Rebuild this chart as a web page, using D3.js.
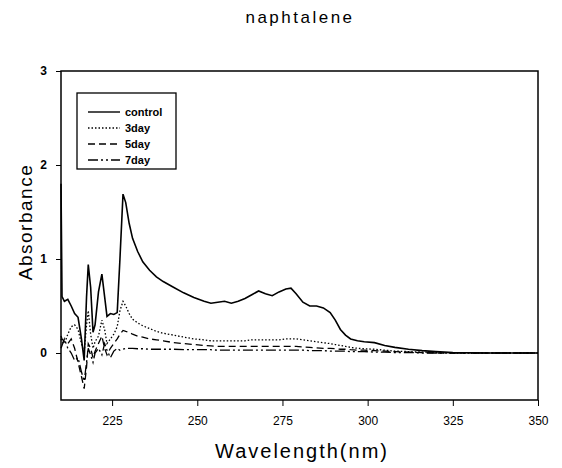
<!DOCTYPE html>
<html>
<head>
<meta charset="utf-8">
<script src="https://cdn.jsdelivr.net/npm/d3@7"></script>
<style>
  body { margin: 0; background: #fff; }
  svg { display: block; }
</style>
</head>
<body>
<svg id="chart" width="562" height="468"></svg>
<script>
// wavelength grid (nm), shared by all series
const wavelengths = [210, 210.3, 211, 212, 213, 214, 215, 216, 216.8, 217.5, 218, 218.7, 219.4, 220, 221, 222, 222.8, 223.5, 224.5, 225.5, 226.5, 227.3, 228.2, 229, 230, 231, 232.5, 234, 236, 238, 240, 243, 246, 249, 252, 254, 256, 258, 260, 262, 264, 266, 268, 270, 272, 274, 276, 277.5, 279, 281, 283, 285, 287, 289, 290.5, 292, 293.5, 295, 297, 299, 302, 305, 308, 312, 316, 320, 325, 330, 335, 340, 345, 350]

const control = [1.8, 0.6, 0.55, 0.57, 0.5, 0.42, 0.38, 0.15, -0.08, 0.6, 0.94, 0.7, 0.22, 0.3, 0.65, 0.84, 0.6, 0.39, 0.42, 0.41, 0.43, 1.0, 1.69, 1.6, 1.38, 1.22, 1.08, 0.97, 0.88, 0.81, 0.76, 0.7, 0.64, 0.59, 0.55, 0.53, 0.54, 0.55, 0.53, 0.55, 0.58, 0.62, 0.66, 0.63, 0.61, 0.65, 0.68, 0.69, 0.63, 0.54, 0.5, 0.5, 0.48, 0.43, 0.35, 0.25, 0.19, 0.15, 0.13, 0.12, 0.11, 0.08, 0.06, 0.04, 0.025, 0.015, 0.005, 0.002, 0, 0, 0, 0]
const day3 = [0.15, 0.12, 0.1, 0.2, 0.28, 0.3, 0.25, 0.1, 0.0, 0.3, 0.45, 0.2, 0.05, 0.12, 0.18, 0.35, 0.25, 0.1, 0.15, 0.2, 0.28, 0.45, 0.55, 0.5, 0.42, 0.36, 0.32, 0.29, 0.26, 0.23, 0.21, 0.19, 0.17, 0.15, 0.14, 0.13, 0.13, 0.13, 0.13, 0.13, 0.13, 0.14, 0.14, 0.14, 0.14, 0.14, 0.15, 0.15, 0.15, 0.14, 0.13, 0.12, 0.11, 0.1, 0.09, 0.08, 0.07, 0.06, 0.05, 0.045, 0.04, 0.03, 0.02, 0.015, 0.01, 0.005, 0, 0, 0, 0, 0, 0]
const day5 = [0.18, 0.15, 0.12, 0.1, 0.15, 0.05, -0.1, -0.25, -0.38, -0.15, 0.1, 0.05, -0.05, 0.02, 0.1, 0.18, 0.05, -0.02, 0.05, 0.1, 0.15, 0.2, 0.24, 0.23, 0.22, 0.2, 0.18, 0.17, 0.15, 0.14, 0.13, 0.11, 0.1, 0.09, 0.08, 0.075, 0.07, 0.07, 0.07, 0.07, 0.07, 0.07, 0.07, 0.07, 0.07, 0.07, 0.07, 0.07, 0.07, 0.065, 0.06, 0.055, 0.05, 0.05, 0.045, 0.04, 0.04, 0.035, 0.03, 0.03, 0.025, 0.02, 0.015, 0.01, 0.005, 0, 0, 0, 0, 0, 0, 0]
const day7 = [0.05, 0.08, 0.15, 0.05, 0.0, -0.08, -0.05, -0.2, -0.3, -0.1, 0.05, -0.02, -0.1, 0.0, 0.05, -0.02, 0.1, 0.03, -0.05, 0.02, 0.05, 0.03, 0.04, 0.05, 0.05, 0.05, 0.045, 0.045, 0.04, 0.04, 0.04, 0.04, 0.035, 0.035, 0.035, 0.035, 0.03, 0.03, 0.03, 0.03, 0.03, 0.03, 0.03, 0.03, 0.03, 0.03, 0.03, 0.03, 0.03, 0.03, 0.025, 0.025, 0.025, 0.02, 0.02, 0.02, 0.02, 0.015, 0.015, 0.015, 0.01, 0.01, 0.005, 0.005, 0, 0, 0, 0, 0, 0, 0, 0]

const seriesNames = ['control', '3day', '5day', '7day']
const seriesValues = [control, day3, day5, day7]
const dashes = [null, '1.5,2', '7,4', '10,3,2,3,2,3']
const xTicks = [225, 250, 275, 300, 325, 350]
const yTicks = [0, 1, 2, 3]

const svg = d3.select('#chart')
const plotLeft = 61, plotRight = 538, plotTop = 71, plotBottom = 400

const x = d3.scaleLinear().domain([210, 350]).range([plotLeft, plotRight])
const y = d3.scaleLinear().domain([-0.5, 3]).range([plotBottom, plotTop])

// title
svg.append('text')
  .attr('x', 300).attr('y', 23)
  .attr('text-anchor', 'middle')
  .style('font-family', 'Liberation Sans, Arial, sans-serif')
  .style('font-size', '17px')
  .style('letter-spacing', '2.5px')
  .text('naphtalene')

// frame
svg.append('rect')
  .attr('x', plotLeft).attr('y', plotTop)
  .attr('width', plotRight - plotLeft).attr('height', plotBottom - plotTop)
  .attr('fill', 'none').attr('stroke', '#000').attr('stroke-width', 1.5)

const xAxis = svg.append('g')
  .attr('transform', `translate(0,${plotBottom})`)
  .call(d3.axisBottom(x).tickValues(xTicks).tickFormat(d3.format('d')).tickSize(6).tickPadding(10))
xAxis.select('.domain').remove()
xAxis.selectAll('text')
  .style('font-family', 'Liberation Sans Narrow, Liberation Sans, Arial, sans-serif')
  .style('font-size', '12px')

const yAxis = svg.append('g')
  .attr('transform', `translate(${plotLeft},0)`)
  .call(d3.axisLeft(y).tickValues(yTicks).tickFormat(d3.format('d')).tickSize(5).tickPadding(9))
yAxis.select('.domain').remove()
yAxis.selectAll('text')
  .style('font-family', 'Liberation Sans, Arial, sans-serif')
  .style('font-size', '12px')
  .style('font-weight', 'bold')

// axis titles
svg.append('text')
  .attr('transform', 'translate(32,222) rotate(-90)')
  .attr('text-anchor', 'middle')
  .style('font-family', 'Liberation Sans, Arial, sans-serif')
  .style('font-size', '19px')
  .style('letter-spacing', '1.5px')
  .text('Absorbance')

svg.append('text')
  .attr('x', 302).attr('y', 458)
  .attr('text-anchor', 'middle')
  .style('font-family', 'Liberation Sans, Arial, sans-serif')
  .style('font-size', '20px')
  .style('letter-spacing', '2px')
  .text('Wavelength(nm)')

// curves
const line = d3.line()
  .x((d, i) => x(wavelengths[i]))
  .y(d => y(d))

svg.selectAll('path.curve')
  .data(seriesValues)
  .enter()
  .append('path')
  .attr('class', 'curve')
  .attr('d', d => line(d))
  .attr('fill', 'none')
  .attr('stroke', '#000')
  .attr('stroke-width', (d, i) => i === 0 ? 1.6 : 1.3)
  .attr('stroke-dasharray', (d, i) => dashes[i])

// legend
svg.append('rect')
  .attr('x', 77).attr('y', 93).attr('width', 99).attr('height', 76)
  .attr('fill', '#fff').attr('stroke', '#000').attr('stroke-width', 1.3)

const legendY = [112, 128, 144, 160]
seriesNames.forEach((name, i) => {
  svg.append('line')
    .attr('x1', 88).attr('x2', 120)
    .attr('y1', legendY[i]).attr('y2', legendY[i])
    .attr('stroke', '#000')
    .attr('stroke-width', i === 0 ? 1.4 : 1.3)
    .attr('stroke-dasharray', dashes[i])
  svg.append('text')
    .attr('x', 125).attr('y', legendY[i] + 4)
    .style('font-family', 'Liberation Sans, Arial, sans-serif')
    .style('font-size', '11px')
    .style('font-weight', 'bold')
    .text(name)
})
</script>
</body>
</html>
